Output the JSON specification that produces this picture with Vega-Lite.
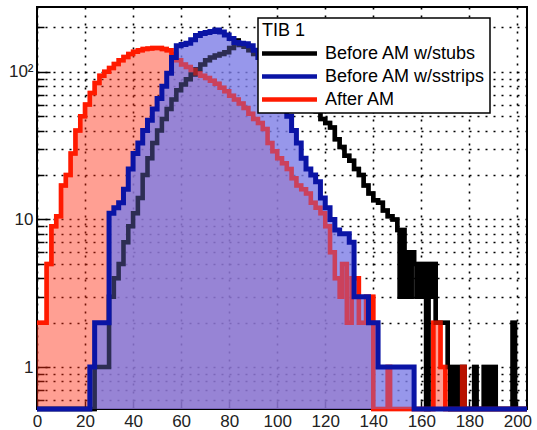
{
  "$schema": "https://vega.github.io/schema/vega-lite/v6.json",
  "width": 490,
  "height": 402,
  "autosize": {"type": "none"},
  "padding": {"left": 37, "top": 7, "right": 10, "bottom": 21},
  "background": "white",
  "config": {
    "view": {"stroke": "black", "strokeWidth": 2},
    "legend": {"strokeWidth": 1.5}
  },
  "datasets": {
    "black": [
      {"x": 0, "n": 0}, {"x": 24, "n": 1}, {"x": 30, "n": 3}, {"x": 32, "n": 4}, {"x": 34, "n": 5}, {"x": 36, "n": 7}, {"x": 38, "n": 9}, {"x": 40, "n": 11}, {"x": 42, "n": 14}, {"x": 44, "n": 20}, {"x": 46, "n": 26}, {"x": 48, "n": 33}, {"x": 50, "n": 40}, {"x": 52, "n": 48}, {"x": 54, "n": 56}, {"x": 56, "n": 65}, {"x": 58, "n": 75}, {"x": 60, "n": 82}, {"x": 62, "n": 89}, {"x": 64, "n": 96}, {"x": 66, "n": 104}, {"x": 68, "n": 112}, {"x": 70, "n": 120}, {"x": 72, "n": 125}, {"x": 74, "n": 129}, {"x": 76, "n": 132}, {"x": 78, "n": 136}, {"x": 80, "n": 145}, {"x": 82, "n": 163}, {"x": 84, "n": 152}, {"x": 86, "n": 148}, {"x": 88, "n": 140}, {"x": 90, "n": 132}, {"x": 92, "n": 125}, {"x": 94, "n": 118}, {"x": 96, "n": 110}, {"x": 98, "n": 102}, {"x": 100, "n": 95}, {"x": 102, "n": 88}, {"x": 104, "n": 82}, {"x": 106, "n": 77}, {"x": 108, "n": 72}, {"x": 110, "n": 68}, {"x": 112, "n": 63}, {"x": 114, "n": 58}, {"x": 116, "n": 54}, {"x": 118, "n": 48}, {"x": 120, "n": 45}, {"x": 122, "n": 42}, {"x": 124, "n": 35}, {"x": 126, "n": 31}, {"x": 128, "n": 27}, {"x": 130, "n": 25}, {"x": 132, "n": 22}, {"x": 134, "n": 20}, {"x": 136, "n": 17}, {"x": 138, "n": 15}, {"x": 140, "n": 13.5}, {"x": 142, "n": 13}, {"x": 144, "n": 11.5}, {"x": 146, "n": 10.5}, {"x": 148, "n": 10}, {"x": 150, "n": 8.5}, {"x": 151, "n": 3}, {"x": 152, "n": 8.5}, {"x": 153, "n": 3}, {"x": 154, "n": 6}, {"x": 155, "n": 3}, {"x": 156, "n": 6}, {"x": 157, "n": 5}, {"x": 158, "n": 3}, {"x": 159, "n": 5}, {"x": 160, "n": 3}, {"x": 161, "n": 5}, {"x": 162, "n": 0}, {"x": 163, "n": 5}, {"x": 164, "n": 3}, {"x": 165, "n": 5}, {"x": 166, "n": 2}, {"x": 171, "n": 1}, {"x": 172, "n": 0}, {"x": 173, "n": 1}, {"x": 174, "n": 0}, {"x": 175, "n": 1}, {"x": 176, "n": 0}, {"x": 177, "n": 1}, {"x": 178, "n": 0}, {"x": 182, "n": 1}, {"x": 183, "n": 0}, {"x": 186, "n": 1}, {"x": 187, "n": 0}, {"x": 188, "n": 1}, {"x": 189, "n": 0}, {"x": 190, "n": 1}, {"x": 191, "n": 0}, {"x": 198, "n": 2}, {"x": 199, "n": 0}, {"x": 204, "n": 0}
    ],
    "blue": [
      {"x": 0, "n": 0}, {"x": 22, "n": 1}, {"x": 24, "n": 2}, {"x": 30, "n": 11}, {"x": 32, "n": 12}, {"x": 34, "n": 13}, {"x": 36, "n": 16}, {"x": 38, "n": 22}, {"x": 40, "n": 28}, {"x": 42, "n": 33}, {"x": 44, "n": 40}, {"x": 46, "n": 47}, {"x": 48, "n": 56}, {"x": 50, "n": 66}, {"x": 52, "n": 80}, {"x": 54, "n": 98}, {"x": 56, "n": 125}, {"x": 58, "n": 150}, {"x": 60, "n": 153}, {"x": 62, "n": 156}, {"x": 64, "n": 165}, {"x": 66, "n": 176}, {"x": 68, "n": 182}, {"x": 70, "n": 185}, {"x": 72, "n": 188}, {"x": 74, "n": 192}, {"x": 76, "n": 186}, {"x": 78, "n": 178}, {"x": 80, "n": 168}, {"x": 82, "n": 158}, {"x": 84, "n": 156}, {"x": 86, "n": 155}, {"x": 88, "n": 150}, {"x": 90, "n": 140}, {"x": 92, "n": 125}, {"x": 94, "n": 110}, {"x": 96, "n": 96}, {"x": 98, "n": 83}, {"x": 100, "n": 71}, {"x": 102, "n": 61}, {"x": 104, "n": 50}, {"x": 106, "n": 40}, {"x": 108, "n": 33}, {"x": 110, "n": 26}, {"x": 112, "n": 22}, {"x": 114, "n": 20}, {"x": 116, "n": 18}, {"x": 118, "n": 14}, {"x": 120, "n": 12}, {"x": 122, "n": 10}, {"x": 124, "n": 8.5}, {"x": 126, "n": 8}, {"x": 130, "n": 7}, {"x": 132, "n": 3}, {"x": 138, "n": 2}, {"x": 142, "n": 1}, {"x": 157, "n": 0}, {"x": 204, "n": 0}
    ],
    "red": [
      {"x": 0, "n": 2}, {"x": 2, "n": 2}, {"x": 4, "n": 5}, {"x": 6, "n": 9}, {"x": 8, "n": 10.5}, {"x": 10, "n": 17}, {"x": 12, "n": 20}, {"x": 14, "n": 28}, {"x": 16, "n": 40}, {"x": 18, "n": 50}, {"x": 20, "n": 60}, {"x": 22, "n": 72}, {"x": 24, "n": 84}, {"x": 26, "n": 94}, {"x": 28, "n": 100}, {"x": 30, "n": 106}, {"x": 32, "n": 113}, {"x": 34, "n": 120}, {"x": 36, "n": 126}, {"x": 38, "n": 132}, {"x": 40, "n": 137}, {"x": 42, "n": 140}, {"x": 44, "n": 143}, {"x": 46, "n": 144}, {"x": 48, "n": 145}, {"x": 50, "n": 145}, {"x": 52, "n": 143}, {"x": 54, "n": 140}, {"x": 56, "n": 132}, {"x": 58, "n": 120}, {"x": 60, "n": 112}, {"x": 62, "n": 108}, {"x": 64, "n": 103}, {"x": 66, "n": 98}, {"x": 68, "n": 94}, {"x": 70, "n": 91}, {"x": 72, "n": 87}, {"x": 74, "n": 83}, {"x": 76, "n": 78}, {"x": 78, "n": 74}, {"x": 80, "n": 69}, {"x": 82, "n": 65}, {"x": 84, "n": 61}, {"x": 86, "n": 57}, {"x": 88, "n": 52}, {"x": 90, "n": 48}, {"x": 92, "n": 45}, {"x": 94, "n": 41}, {"x": 96, "n": 33}, {"x": 98, "n": 29}, {"x": 100, "n": 26}, {"x": 102, "n": 24}, {"x": 104, "n": 22}, {"x": 106, "n": 19}, {"x": 108, "n": 17}, {"x": 110, "n": 16}, {"x": 112, "n": 15}, {"x": 114, "n": 13}, {"x": 116, "n": 12}, {"x": 118, "n": 11}, {"x": 120, "n": 9}, {"x": 122, "n": 6}, {"x": 124, "n": 4}, {"x": 126, "n": 3}, {"x": 127, "n": 5}, {"x": 129, "n": 2}, {"x": 131, "n": 4}, {"x": 134, "n": 2}, {"x": 137, "n": 3}, {"x": 140, "n": 0}, {"x": 146, "n": 1}, {"x": 147, "n": 0}, {"x": 165, "n": 2}, {"x": 168, "n": 1}, {"x": 170, "n": 0}, {"x": 177, "n": 1}, {"x": 178, "n": 0}, {"x": 204, "n": 0}
    ]
  },
  "encoding": {
    "x": {
      "field": "x", "type": "quantitative",
      "scale": {"domain": [0, 204], "nice": false, "zero": false},
      "axis": {
        "title": null, "values": [0, 20, 40, 60, 80, 100, 120, 140, 160, 180, 200],
        "domain": false, "grid": true, "gridDash": [2, 6], "gridColor": "black", "gridWidth": 1.6,
        "tickSize": -8, "tickColor": "black", "tickWidth": 1.5, "labelPadding": 12,
        "labelFont": "Liberation Sans", "labelFontSize": 17, "labelColor": "#222",
        "labelFlush": false, "labelOverlap": false
      }
    },
    "y": {
      "field": "n", "type": "quantitative",
      "scale": {"type": "log", "domain": [0.52, 275], "nice": false, "clamp": true},
      "axis": {
        "title": null,
        "values": [0.6, 0.7, 0.8, 0.9, 1, 2, 3, 4, 5, 6, 7, 8, 9, 10, 20, 30, 40, 50, 60, 70, 80, 90, 100, 200],
        "labelExpr": "datum.value == 1 ? '1' : datum.value == 10 ? '10' : datum.value == 100 ? '10²' : ''",
        "domain": false, "grid": true, "gridDash": [2, 6], "gridColor": "black", "gridWidth": 1.6,
        "tickSize": {"condition": {"test": "datum.value == 1 || datum.value == 10 || datum.value == 100", "value": -13}, "value": -7},
        "tickColor": "black", "tickWidth": 1.5, "labelPadding": 17,
        "labelFont": "Liberation Sans", "labelFontSize": 17, "labelColor": "#222", "labelOverlap": false
      }
    }
  },
  "layer": [
    {
      "data": {"name": "red"},
      "mark": {"type": "area", "interpolate": "step-after", "color": "#ff2a10", "fillOpacity": 0.45}
    },
    {
      "data": {"name": "black"},
      "mark": {"type": "line", "interpolate": "step-after", "strokeWidth": 4.5},
      "encoding": {
        "stroke": {
          "datum": "Before AM w/stubs", "type": "nominal",
          "scale": {"domain": ["Before AM w/stubs", "Before AM w/sstrips", "After AM"], "range": ["#000000", "#0a14a5", "#ff1a00"]},
          "legend": {
            "orient": "none", "legendX": 221, "legendY": 11,
            "title": "TIB 1                                            ",
            "titleFont": "Liberation Sans", "titleFontSize": 18, "titleFontWeight": "normal", "titleColor": "black", "titleLimit": 400, "titlePadding": 2,
            "labelFont": "Liberation Sans", "labelFontSize": 18, "labelColor": "black", "labelLimit": 400, "labelOffset": 24,
            "symbolType": "M-3,0L3,0", "symbolStrokeWidth": 4.5, "symbolSize": 336, "symbolOffset": 16,
            "rowPadding": 2, "padding": 4, "strokeColor": "black", "fillColor": "white"
          }
        }
      }
    },
    {
      "data": {"name": "red"},
      "mark": {"type": "line", "interpolate": "step-after", "strokeWidth": 4.5},
      "encoding": {
        "stroke": {"datum": "After AM", "type": "nominal"}
      }
    },
    {
      "data": {"name": "blue"},
      "mark": {"type": "area", "interpolate": "step-after", "color": "#7d7de6", "fillOpacity": 0.8}
    },
    {
      "data": {"name": "black"},
      "mark": {"type": "line", "interpolate": "step-after", "strokeWidth": 4.5, "strokeOpacity": 0.55},
      "encoding": {
        "stroke": {"datum": "Before AM w/stubs", "type": "nominal"}
      }
    },
    {
      "data": {"name": "red"},
      "mark": {"type": "line", "interpolate": "step-after", "strokeWidth": 4.5, "strokeOpacity": 0.5},
      "encoding": {
        "stroke": {"datum": "After AM", "type": "nominal"}
      }
    },
    {
      "data": {"name": "blue"},
      "mark": {"type": "line", "interpolate": "step-after", "strokeWidth": 5},
      "encoding": {
        "stroke": {"datum": "Before AM w/sstrips", "type": "nominal"}
      }
    }
  ]
}
